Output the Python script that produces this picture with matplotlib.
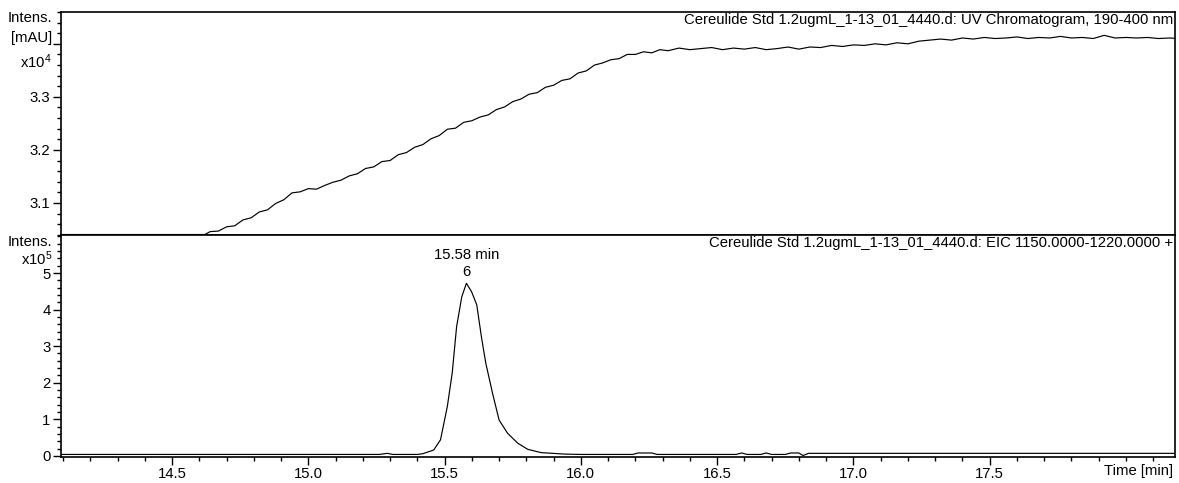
import matplotlib
matplotlib.use("Agg")
import matplotlib.pyplot as plt
from matplotlib.ticker import MultipleLocator, FixedLocator

plt.rcParams['font.family'] = ['Liberation Sans', 'DejaVu Sans']
plt.rcParams['mathtext.fontset'] = 'custom'
plt.rcParams['mathtext.rm'] = 'Liberation Sans'
plt.rcParams['mathtext.it'] = 'Liberation Sans'

# ---------------- data ----------------
uv_title = "Cereulide Std 1.2ugmL_1-13_01_4440.d: UV Chromatogram, 190-400 nm"
eic_title = "Cereulide Std 1.2ugmL_1-13_01_4440.d: EIC 1150.0000-1220.0000 +"

# UV trace, time [min] and intensity [x10^4 mAU]
uv_time = [14.09, 14.62, 14.64, 14.67, 14.70, 14.73, 14.76, 14.79, 14.82, 14.85,
           14.88, 14.91, 14.94, 14.97, 15.00, 15.03, 15.06, 15.09, 15.12, 15.15,
           15.18, 15.21, 15.24, 15.27, 15.30, 15.33, 15.36, 15.39, 15.42, 15.45,
           15.48, 15.51, 15.54, 15.57, 15.60, 15.63, 15.66, 15.69, 15.72, 15.75,
           15.78, 15.81, 15.84, 15.87, 15.90, 15.93, 15.96, 15.99, 16.02, 16.05,
           16.08, 16.11, 16.14, 16.17, 16.20, 16.23, 16.26, 16.29, 16.32, 16.36,
           16.40, 16.44, 16.48, 16.52, 16.56, 16.60, 16.64, 16.68, 16.72, 16.76,
           16.80, 16.84, 16.88, 16.92, 16.96, 17.00, 17.04, 17.08, 17.12, 17.16,
           17.20, 17.24, 17.28, 17.32, 17.36, 17.40, 17.44, 17.48, 17.52, 17.56,
           17.60, 17.64, 17.68, 17.72, 17.76, 17.80, 17.84, 17.88, 17.92, 17.96,
           18.00, 18.04, 18.08, 18.12, 18.16, 18.19]
uv_signal = [3.0405, 3.0405, 3.046, 3.047, 3.055, 3.057, 3.068, 3.072, 3.083, 3.087,
             3.099, 3.106, 3.119, 3.121, 3.127, 3.126, 3.133, 3.139, 3.143, 3.151,
             3.155, 3.165, 3.168, 3.178, 3.180, 3.191, 3.195, 3.205, 3.210, 3.221,
             3.227, 3.239, 3.241, 3.252, 3.255, 3.262, 3.266, 3.276, 3.281, 3.291,
             3.296, 3.305, 3.308, 3.318, 3.322, 3.331, 3.334, 3.345, 3.349, 3.360,
             3.364, 3.370, 3.372, 3.380, 3.380, 3.385, 3.383, 3.389, 3.387, 3.392,
             3.389, 3.391, 3.393, 3.389, 3.392, 3.390, 3.393, 3.389, 3.391, 3.394,
             3.390, 3.394, 3.393, 3.397, 3.395, 3.398, 3.397, 3.400, 3.398, 3.402,
             3.400, 3.405, 3.407, 3.409, 3.407, 3.411, 3.409, 3.412, 3.410, 3.411,
             3.413, 3.410, 3.412, 3.411, 3.414, 3.411, 3.412, 3.410, 3.416, 3.411,
             3.412, 3.411, 3.412, 3.410, 3.411, 3.410]

# EIC trace, time [min] and intensity [x10^5]
eic_time = [14.09, 15.26, 15.29, 15.31, 15.40, 15.42, 15.46, 15.485, 15.51, 15.528,
            15.544, 15.563, 15.58, 15.599, 15.618, 15.635, 15.651, 15.676, 15.70, 15.731,
            15.768, 15.805, 15.854, 15.939, 16.00, 16.19, 16.21, 16.26, 16.28, 16.57,
            16.59, 16.61, 16.66, 16.68, 16.70, 16.75, 16.77, 16.80, 16.815, 16.835,
            18.19]
eic_signal = [0.04, 0.04, 0.07, 0.04, 0.04, 0.06, 0.16, 0.44, 1.35, 2.27,
              3.53, 4.35, 4.72, 4.49, 4.13, 3.26, 2.54, 1.71, 0.98, 0.62,
              0.35, 0.18, 0.09, 0.05, 0.04, 0.04, 0.08, 0.08, 0.04, 0.04,
              0.08, 0.04, 0.04, 0.08, 0.04, 0.04, 0.08, 0.08, 0.01, 0.07,
              0.07]

peak_rt = 15.58
peak_height = 4.72
peak_label = "6"

x_major = [14.5, 15.0, 15.5, 16.0, 16.5, 17.0, 17.5]
x_labels = ["14.5", "15.0", "15.5", "16.0", "16.5", "17.0", "17.5"]
uv_yticks = [3.1, 3.2, 3.3, 3.4]
uv_ylabels = ["3.1", "3.2", "3.3", ""]
eic_yticks = [0, 1, 2, 3, 4, 5]
eic_ylabels = ["0", "1", "2", "3", "4", "5"]

# ---------------- figure ----------------
W, H = 1179, 483
fig = plt.figure(figsize=(W / 100, H / 100), dpi=100)


def fx(px):
    return px / W


def fy(py):
    return 1 - py / H


left, right = 61, 1175
top1, mid, bot2 = 12, 235, 457
ax1 = fig.add_axes([fx(left), fy(mid), fx(right) - fx(left), fy(top1) - fy(mid)])
ax2 = fig.add_axes([fx(left), fy(bot2), fx(right) - fx(left), fy(mid) - fy(bot2)])

xlim = (14.0925, 18.18)
FS = 10.7

for ax in (ax1, ax2):
    for s in ax.spines.values():
        s.set_linewidth(1.2)
    ax.set_xlim(*xlim)

# upper panel
ax1.plot(uv_time, uv_signal, color="black", lw=0.85)
ax1.set_ylim(3.0396, 3.46)
ax1.set_xticks([])
ax1.yaxis.set_major_locator(FixedLocator(uv_yticks))
ax1.set_yticklabels(uv_ylabels)
ax1.yaxis.set_minor_locator(MultipleLocator(0.02))
ax1.tick_params(axis="y", which="major", length=6, width=1, direction="out", pad=2, labelsize=FS)
ax1.tick_params(axis="y", which="minor", length=3, width=1, direction="out")
ax1.text(0.998, 0.995, uv_title, ha="right", va="top", transform=ax1.transAxes, fontsize=FS)

# lower panel
ax2.plot(eic_time, eic_signal, color="black", lw=0.85)
ax2.set_ylim(-0.03, 6.04)
ax2.yaxis.set_major_locator(FixedLocator(eic_yticks))
ax2.set_yticklabels(eic_ylabels)
ax2.yaxis.set_minor_locator(MultipleLocator(0.2))
ax2.xaxis.set_major_locator(FixedLocator(x_major))
ax2.set_xticklabels(x_labels)
ax2.xaxis.set_minor_locator(MultipleLocator(0.1))
ax2.tick_params(axis="both", which="major", length=6, width=1, direction="out", pad=1.5, labelsize=FS)
ax2.tick_params(axis="both", which="minor", length=3, width=1, direction="out")
ax2.text(0.998, 0.995, eic_title, ha="right", va="top", transform=ax2.transAxes, fontsize=FS)

ax2.annotate(peak_label, xy=(peak_rt, peak_height), xytext=(0, 3), textcoords="offset points",
             ha="center", va="bottom", fontsize=FS)
ax2.annotate(f"{peak_rt:.2f} min", xy=(peak_rt, peak_height), xytext=(0, 15), textcoords="offset points",
             ha="center", va="bottom", fontsize=FS)

# axis captions
fig.text(fx(52), fy(18), "Intens.", ha="right", va="center", fontsize=FS)
fig.text(fx(52), fy(38), "[mAU]", ha="right", va="center", fontsize=FS)
fig.text(fx(52), fy(62), r"x10$^4$", ha="right", va="center", fontsize=FS)
fig.text(fx(52), fy(242), "Intens.", ha="right", va="center", fontsize=FS)
fig.text(fx(52), fy(259), r"x10$^5$", ha="right", va="center", fontsize=FS)
fig.text(fx(1138), fy(471), "Time [min]", ha="center", va="center", fontsize=FS)

fig.savefig("out.png", dpi=100)
